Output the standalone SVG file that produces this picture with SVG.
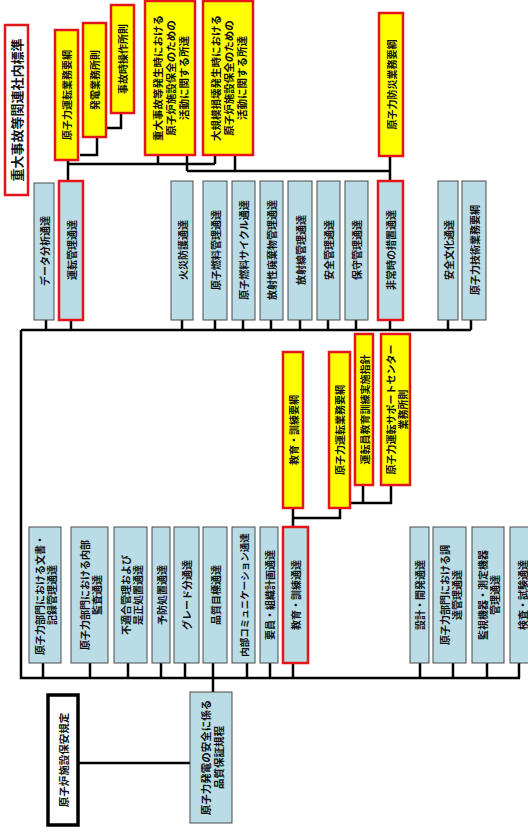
<svg xmlns="http://www.w3.org/2000/svg" width="528" height="834" viewBox="0 0 528 834">
<style>
.y{fill:#ffff00;stroke:#e5141b;stroke-width:2.5}
.b{fill:#b9dce6;stroke:#4a4a4a;stroke-width:1}
.br{fill:#b9dce6;stroke:#e5141b;stroke-width:2.5}
.w{fill:#ffffff;stroke:#e5141b;stroke-width:2.5}
.k{fill:#ffffff;stroke:#000;stroke-width:3.5}
text{font-family:"Noto Sans CJK JP","Noto Sans",sans-serif;font-size:10px;font-weight:700;fill:#111;text-anchor:middle;dominant-baseline:central}
.t{font-size:13px}
.s{font-size:9.5px}
.m{font-size:10.5px}
#conn path{fill:none;stroke:#000;stroke-width:2.5}
</style>
<rect width="528" height="834" fill="#fff"/>
<g id="conn">
<path d="M68 160V181M68 164H215M80 155H97V137M107 128H121V113"/>
<path d="M158 155V164M187 155V171M215 155V164M235 155V171M187 171H390M390 156V180"/>
<path d="M21 330H471M21 330V678H520"/>
<path d="M46 320V330M71 320V330M182 320V330M215 320V330M243 320V330M271 320V330M300 320V330M328 320V330M356 320V330M390 320V330M448 320V330M471 320V330"/>
<path d="M43 663V678M90 663V678M128 663V678M161 663V678M185 663V678M213 663V678M247 663V678M270 663V678M293 663V678M420 663V678M453 663V678M487 663V678M519 663V678"/>
<path d="M213 678V692M78 763H190"/>
<path d="M293 508V527M293 518H340V508M350 503H391V485M363 485V503"/>
</g>
<g id="title"><rect class="w" x="5" y="25" width="23" height="170"/><text class="t" transform="translate(16.5 110) rotate(-90)">重大事故等関連社内標準</text></g>
<g id="n_unten_yoko"><rect class="y" x="55" y="30" width="23" height="130"/><text transform="translate(66.5 95) rotate(-90)">原子力運転業務要綱</text></g>
<g id="n_hatsuden"><rect class="y" x="83" y="23" width="23" height="114"/><text transform="translate(94.5 80) rotate(-90)">発電業務所則</text></g>
<g id="n_jikoji"><rect class="y" x="111" y="5" width="23" height="108"/><text transform="translate(122.5 59) rotate(-90)">事故時操作所則</text></g>
<g id="n_judai"><rect class="y" x="145" y="1" width="50" height="154"/><text class="m" transform="translate(170 78) rotate(-90)"><tspan x="0" dy="-13">重大事故等発生時における</tspan><tspan x="0" dy="13">原子炉施設保全のための</tspan><tspan x="0" dy="13">活動に関する所達</tspan></text></g>
<g id="n_daikibo"><rect class="y" x="203" y="1" width="50" height="154"/><text class="m" transform="translate(228 78) rotate(-90)"><tspan x="0" dy="-13">大規模損壊発生時における</tspan><tspan x="0" dy="13">原子炉施設保全のための</tspan><tspan x="0" dy="13">活動に関する所達</tspan></text></g>
<g id="n_bousai"><rect class="y" x="379" y="13" width="24" height="143"/><text transform="translate(391 84.5) rotate(-90)">原子力防災業務要綱</text></g>
<g id="n_data"><rect class="b" x="34" y="183" width="20" height="137"/><text transform="translate(44 251) rotate(-90)">データ分析通達</text></g>
<g id="n_unten"><rect class="br" x="59" y="181" width="24" height="139"/><text transform="translate(71 250) rotate(-90)">運転管理通達</text></g>
<g id="n_kasai"><rect class="b" x="171" y="181" width="22" height="139"/><text transform="translate(182 250) rotate(-90)">火災防護通達</text></g>
<g id="n_nenryo"><rect class="b" x="203" y="181" width="24" height="139"/><text transform="translate(215 250) rotate(-90)">原子燃料管理通達</text></g>
<g id="n_cycle"><rect class="b" x="232" y="181" width="23" height="139"/><text transform="translate(243.5 250) rotate(-90)">原子燃料サイクル通達</text></g>
<g id="n_haiki"><rect class="b" x="260" y="181" width="23" height="139"/><text transform="translate(271.5 250) rotate(-90)">放射性廃棄物管理通達</text></g>
<g id="n_hoshasen"><rect class="b" x="288" y="181" width="24" height="139"/><text transform="translate(300 250) rotate(-90)">放射線管理通達</text></g>
<g id="n_anzen"><rect class="b" x="317" y="181" width="23" height="139"/><text transform="translate(328.5 250) rotate(-90)">安全管理通達</text></g>
<g id="n_hoshu"><rect class="b" x="345" y="181" width="23" height="139"/><text transform="translate(356.5 250) rotate(-90)">保守管理通達</text></g>
<g id="n_hijo"><rect class="br" x="378" y="181" width="25" height="139"/><text transform="translate(390.5 250) rotate(-90)">非常時の措置通達</text></g>
<g id="n_bunka"><rect class="b" x="438" y="181" width="20" height="139"/><text transform="translate(448 250) rotate(-90)">安全文化通達</text></g>
<g id="n_gijutsu"><rect class="b" x="462" y="181" width="24" height="139"/><text transform="translate(474 250) rotate(-90)">原子力技術業務要綱</text></g>
<g id="n_kyoiku_yoko"><rect class="y" x="283" y="352" width="20" height="156"/><text transform="translate(293 430) rotate(-90)">教育・訓練要綱</text></g>
<g id="n_unten_yoko2"><rect class="y" x="329" y="352" width="21" height="156"/><text transform="translate(339.5 430) rotate(-90)">原子力運転業務要綱</text></g>
<g id="n_untenin"><rect class="y" x="355" y="334" width="18" height="151"/><text transform="translate(364 409.5) rotate(-90)">運転員教育訓練実施指針</text></g>
<g id="n_support"><rect class="y" x="381" y="334" width="29" height="151"/><text transform="translate(395.5 409.5) rotate(-90)"><tspan x="0" dy="-6">原子力運転サポートセンター</tspan><tspan x="0" dy="12">業務所則</tspan></text></g>
<g id="n_bunsho"><rect class="b" x="29" y="527" width="32" height="136"/><text transform="translate(45 595) rotate(-90)"><tspan x="0" dy="-6">原子力部門における文書・</tspan><tspan x="0" dy="12">記録管理通達</tspan></text></g>
<g id="n_kansa"><rect class="b" x="71" y="527" width="37" height="136"/><text transform="translate(89.5 595) rotate(-90)"><tspan x="0" dy="-6">原子力部門における内部</tspan><tspan x="0" dy="12">監査通達</tspan></text></g>
<g id="n_futekigo"><rect class="b" x="114" y="527" width="33" height="136"/><text transform="translate(130.5 595) rotate(-90)"><tspan x="0" dy="-6">不適合管理および</tspan><tspan x="0" dy="12">是正処置通達</tspan></text></g>
<g id="n_yobo"><rect class="b" x="152" y="527" width="18" height="136"/><text transform="translate(161 595) rotate(-90)">予防処置通達</text></g>
<g id="n_grade"><rect class="b" x="174" y="527" width="25" height="136"/><text transform="translate(186.5 595) rotate(-90)">グレード分通達</text></g>
<g id="n_mokuhyo"><rect class="b" x="203" y="527" width="24" height="136"/><text transform="translate(215 595) rotate(-90)">品質目標通達</text></g>
<g id="n_comm"><rect class="b" x="232" y="527" width="23" height="136"/><text class="s" transform="translate(243.5 595) rotate(-90)">内部コミュニケーション通達</text></g>
<g id="n_yoin"><rect class="b" x="260" y="527" width="18" height="136"/><text transform="translate(269 595) rotate(-90)">要員・組織計画通達</text></g>
<g id="n_kyoiku"><rect class="br" x="283" y="527" width="25" height="136"/><text transform="translate(295.5 595) rotate(-90)">教育・訓練通達</text></g>
<g id="n_sekkei"><rect class="b" x="410" y="527" width="19" height="136"/><text transform="translate(419.5 595) rotate(-90)">設計・開発通達</text></g>
<g id="n_chotatsu"><rect class="b" x="433" y="527" width="33" height="136"/><text transform="translate(449.5 595) rotate(-90)"><tspan x="0" dy="-6">原子力部門における調</tspan><tspan x="0" dy="12">達管理通達</tspan></text></g>
<g id="n_kanshi"><rect class="b" x="472" y="527" width="32" height="136"/><text transform="translate(488 595) rotate(-90)"><tspan x="0" dy="-6">監視機器・測定機器</tspan><tspan x="0" dy="12">管理通達</tspan></text></g>
<g id="n_kensa"><rect class="b" x="510" y="527" width="26" height="136"/><text transform="translate(522 595) rotate(-90)">検査・試験通達</text></g>
<g id="n_hinshitsu"><rect class="b" x="190" y="692" width="42" height="131"/><text class="m" transform="translate(211 757.5) rotate(-90)"><tspan x="0" dy="-6.5">原子力発電の安全に係る</tspan><tspan x="0" dy="13">品質保証規程</tspan></text></g>
<g id="n_hoan"><rect class="k" x="48" y="695" width="30" height="130"/><text class="m" transform="translate(63 760) rotate(-90)">原子炉施設保安規定</text></g>
</svg>
